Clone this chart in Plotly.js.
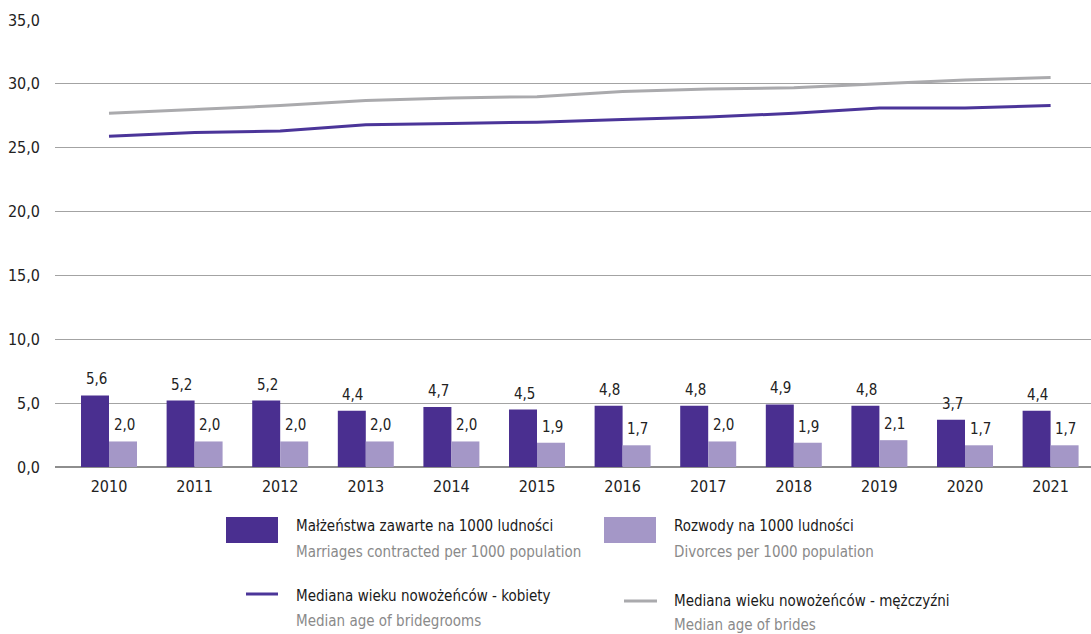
<!DOCTYPE html>
<html>
<head>
<meta charset="utf-8">
<script src="https://cdn.plot.ly/plotly-3.0.1.min.js"></script>
<style>
html,body{margin:0;padding:0;background:#fff;}
#chart{width:1091px;height:634px;}
</style>
</head>
<body>
<div id="chart"></div>
<script>
// ---- data ----
const years = ['2010','2011','2012','2013','2014','2015','2016','2017','2018','2019','2020','2021'];
const marriages = [5.6, 5.2, 5.2, 4.4, 4.7, 4.5, 4.8, 4.8, 4.9, 4.8, 3.7, 4.4];
const divorces  = [2.0, 2.0, 2.0, 2.0, 2.0, 1.9, 1.7, 2.0, 1.9, 2.1, 1.7, 1.7];
const medianWomen = [25.9, 26.2, 26.3, 26.8, 26.9, 27.0, 27.2, 27.4, 27.7, 28.1, 28.1, 28.3];
const medianMen   = [27.7, 28.0, 28.3, 28.7, 28.9, 29.0, 29.4, 29.6, 29.7, 30.0, 30.3, 30.5];
const yTicks = [0, 5, 10, 15, 20, 25, 30, 35];

const labelsPL = ['Małżeństwa zawarte na 1000 ludności', 'Rozwody na 1000 ludności',
                  'Mediana wieku nowożeńców - kobiety', 'Mediana wieku nowożeńców - mężczyźni'];
const labelsEN = ['Marriages contracted per 1000 population', 'Divorces per 1000 population',
                  'Median age of bridegrooms', 'Median age of brides'];

// ---- style ----
const FONT = '"DejaVu Sans Condensed", "Liberation Sans Narrow", sans-serif';
const C_MAR = '#4a2f90';
const C_DIV = '#a497c7';
const C_LW = '#4b3599';
const C_LM = '#aaaaad';

const W = 1091, H = 634;
const L = 55, R = 0, T = 20, B = 167;
const px = x => (x - L) / (W - L - R);
const py = y => (H - B - y) / (H - B - T);

const fmt = v => v.toFixed(1).replace('.', ',');

const traces = [
  {type:'bar', x: years, y: marriages, name: labelsPL[0], marker:{color:C_MAR}, hoverinfo:'y'},
  {type:'bar', x: years, y: divorces, name: labelsPL[1], marker:{color:C_DIV}, hoverinfo:'y'},
  {type:'scatter', mode:'lines', x: years, y: medianWomen, name: labelsPL[2], line:{color:C_LW, width:3}},
  {type:'scatter', mode:'lines', x: years, y: medianMen, name: labelsPL[3], line:{color:C_LM, width:3}}
];

const annotations = [];
// data labels (x given as category index)
years.forEach((yr, i) => {
  annotations.push({x: i, y: marriages[i], xref:'x', yref:'y', text: fmt(marriages[i]),
    showarrow:false, yanchor:'bottom', xshift:-13, yshift:5, font:{family:FONT, size:15, color:'#222'}});
  annotations.push({x: i, y: divorces[i], xref:'x', yref:'y', text: fmt(divorces[i]),
    showarrow:false, yanchor:'bottom', xshift:15, yshift:5, font:{family:FONT, size:15, color:'#222'}});
});

// legend (manual)
const shapes = [
  {type:'rect', xref:'paper', yref:'paper', x0:px(226), x1:px(278), y0:py(517), y1:py(543), fillcolor:C_MAR, line:{width:0}},
  {type:'rect', xref:'paper', yref:'paper', x0:px(604), x1:px(656), y0:py(517), y1:py(543), fillcolor:C_DIV, line:{width:0}},
  {type:'line', xref:'paper', yref:'paper', x0:px(246), x1:px(278), y0:py(594), y1:py(594), line:{color:C_LW, width:3}},
  {type:'line', xref:'paper', yref:'paper', x0:px(624), x1:px(657), y0:py(601), y1:py(601), line:{color:C_LM, width:3}}
];
const legPos = [[294, 526, 552], [672, 526, 552], [294, 596, 621], [672, 601, 625]];
legPos.forEach((p, k) => {
  annotations.push({xref:'paper', yref:'paper', x:px(p[0]), y:py(p[1]), xanchor:'left', yanchor:'middle',
    showarrow:false, text: labelsPL[k], font:{family:FONT, size:15, color:'#1a1a1a'}});
  annotations.push({xref:'paper', yref:'paper', x:px(p[0]), y:py(p[2]), xanchor:'left', yanchor:'middle',
    showarrow:false, text: labelsEN[k], font:{family:FONT, size:15, color:'#8a8a8a'}});
});

const catW = 85.6;
const firstC = 109;
const layout = {
  width: W, height: H,
  margin: {l:L, r:R, t:T, b:B},
  paper_bgcolor:'#fff', plot_bgcolor:'#fff',
  separators: ', ',
  showlegend: false,
  barmode: 'group',
  bargap: 0.346, bargroupgap: 0,
  font: {family: FONT, size: 16, color:'#222'},
  xaxis: {
    type:'category',
    range: [(L - firstC)/catW, (W - R - firstC)/catW],
    showgrid:false, zeroline:false, showline:false, ticks:'',
    tickfont:{family:FONT, size:16, color:'#222'},
    ticklabelstandoff: 8,
    fixedrange:true
  },
  yaxis: {
    range:[0, 35],
    tickvals: yTicks,
    ticktext: yTicks.map(fmt),
    showgrid:true, gridcolor:'#a3a3a3', gridwidth:1,
    zeroline:true, zerolinecolor:'#8e8e8e', zerolinewidth:1.5,
    showline:false, ticks:'',
    tickfont:{family:FONT, size:16, color:'#222'},
    ticklabelstandoff: 14,
    fixedrange:true
  },
  shapes: shapes,
  annotations: annotations
};

Plotly.newPlot('chart', traces, layout, {displayModeBar:false, staticPlot:true});
</script>
</body>
</html>
